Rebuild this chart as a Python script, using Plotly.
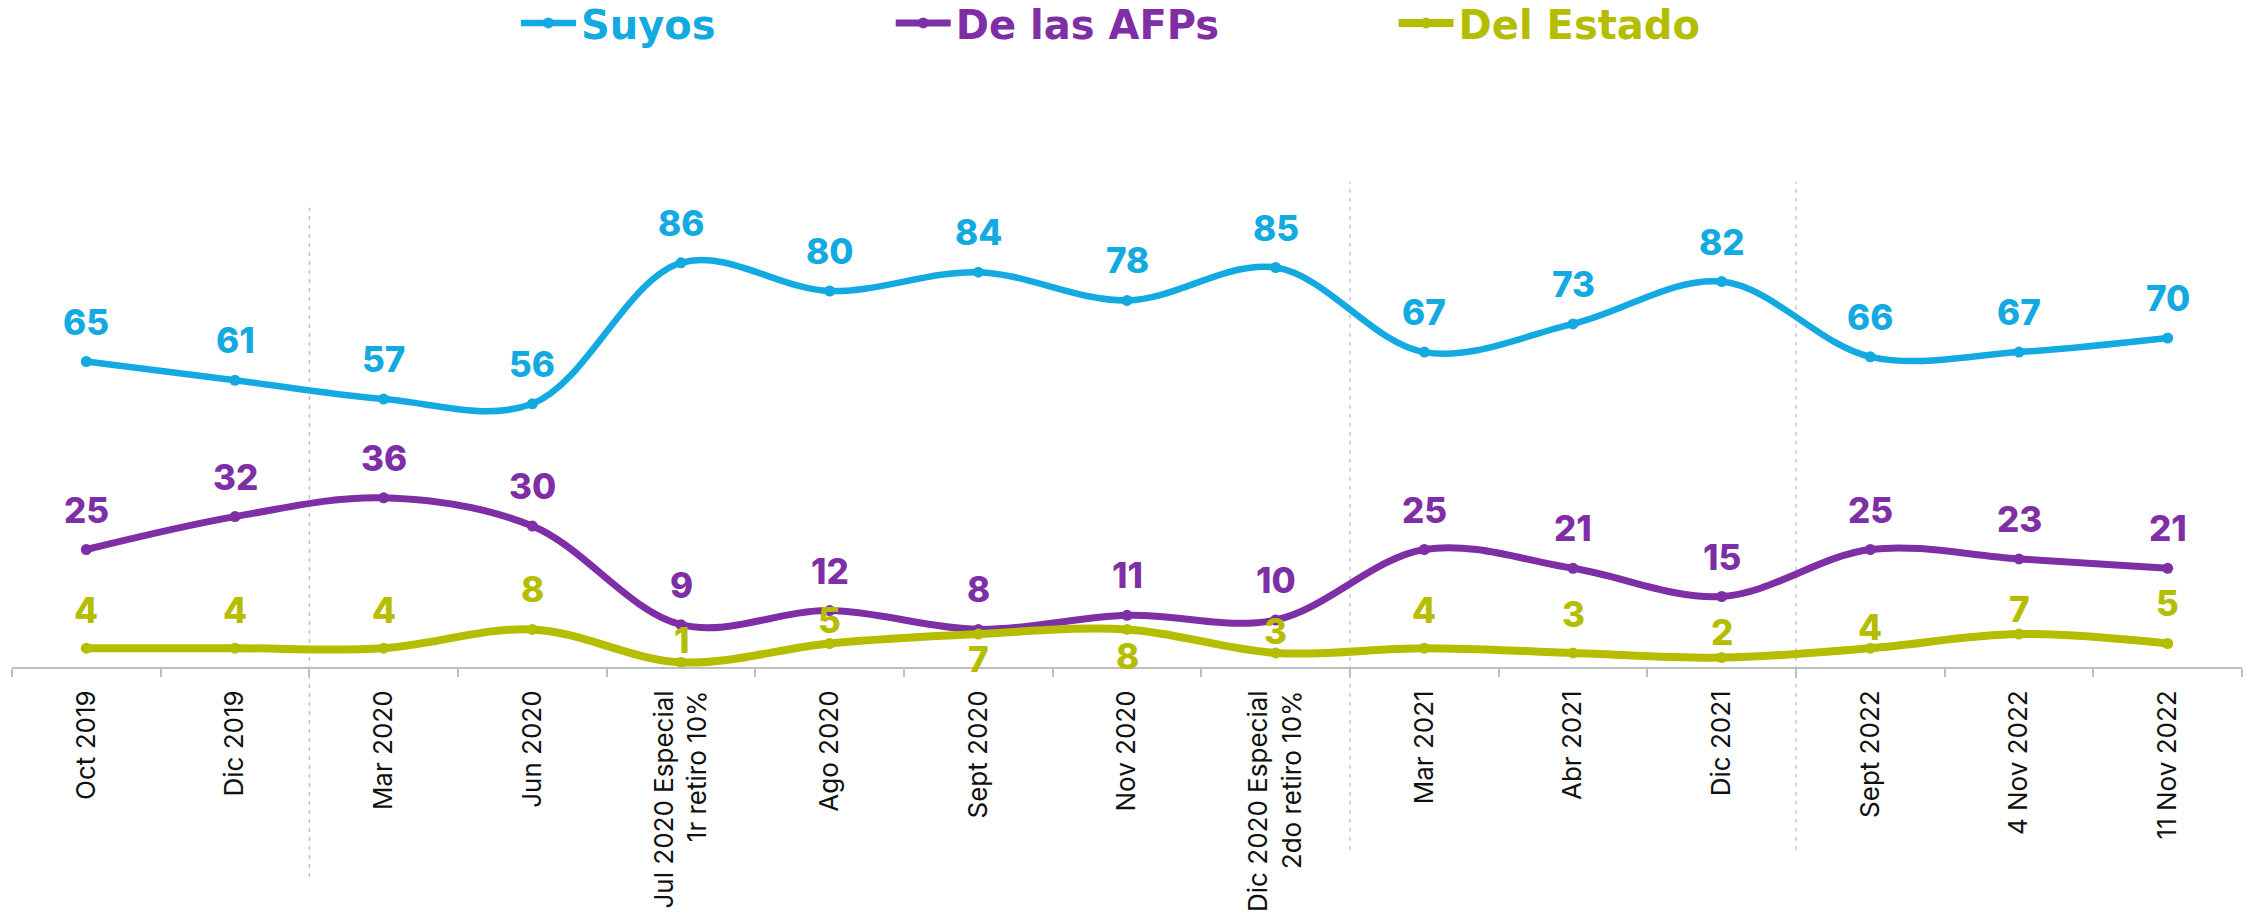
import plotly.graph_objects as go

categories = ["Oct 2019", "Dic 2019", "Mar 2020", "Jun 2020",
              "Jul 2020 Especial<br>1r retiro 10%", "Ago 2020", "Sept 2020", "Nov 2020",
              "Dic 2020 Especial<br>2do retiro 10%", "Mar 2021", "Abr 2021", "Dic 2021",
              "Sept 2022", "4 Nov 2022", "11 Nov 2022"]
suyos = [65, 61, 57, 56, 86, 80, 84, 78, 85, 67, 73, 82, 66, 67, 70]
afps = [25, 32, 36, 30, 9, 12, 8, 11, 10, 25, 21, 15, 25, 23, 21]
estado = [4, 4, 4, 8, 1, 5, 7, 8, 3, 4, 3, 2, 4, 7, 5]

# label vertical shifts (px) for the "Del Estado" series (style, not data)
estado_shift = [38, 38, 38, 40, 22, 24, -25, -27, 22, 38, 39, 26, 21, 25, 41]
separators = [1.5, 8.5, 11.5]

C_SUYOS = "#13A9E1"
C_AFPS = "#7F2FA5"
C_ESTADO = "#B5BD00"

series = [
    ("Suyos", suyos, C_SUYOS, 6.5, "legend"),
    ("De las AFPs", afps, C_AFPS, 7, "legend2"),
    ("Del Estado", estado, C_ESTADO, 8, "legend3"),
]

fig = go.Figure()
for name, vals, col, w, lg in series:
    fig.add_trace(go.Scatter(
        x=categories, y=vals, name=name, mode="lines+markers",
        line=dict(color=col, width=w, shape="spline", smoothing=1.0),
        marker=dict(color=col, size=11),
        legend=lg, cliponaxis=False,
    ))

annotations = []
for name, vals, col, w, lg in series:
    for i, (c, v) in enumerate(zip(categories, vals)):
        shift = estado_shift[i] if name == "Del Estado" else 40
        annotations.append(dict(
            x=c, y=v, xref="x", yref="y", text=str(v), showarrow=False,
            yanchor="middle", yshift=shift,
            font=dict(family="Inter", size=35, color=col, weight=800),
        ))

shapes = []
for k, s in enumerate(separators):
    if k == 0:
        y0, y1 = -0.447, 0.977
    else:
        y0, y1 = -0.389, 1.032
    shapes.append(dict(type="line", xref="x", yref="paper", x0=s, x1=s, y0=y0, y1=y1,
                       line=dict(color="#BFBFBF", width=1.3, dash="4px,5px"), layer="below"))

def leg(x, col):
    return dict(xref="container", yref="container", x=x, y=0.975, xanchor="left",
                yanchor="middle", orientation="h", bgcolor="rgba(0,0,0,0)",
                itemwidth=55,
                font=dict(family="DejaVu Sans", size=40, color=col, weight="bold"))

fig.update_layout(
    width=2255, height=918,
    margin=dict(l=12, r=13, t=197, b=251, autoexpand=False),
    paper_bgcolor="white", plot_bgcolor="white",
    showlegend=True,
    legend=leg(0.2288, C_SUYOS),
    legend2=leg(0.395, C_AFPS),
    legend3=leg(0.618, C_ESTADO),
    annotations=annotations,
    shapes=shapes,
    xaxis=dict(type="category", range=[-0.5, 14.5], tickson="boundaries",
               ticks="outside", ticklen=8, tickcolor="#BFBFBF", tickwidth=1.5,
               showline=True, linecolor="#BFBFBF", linewidth=2, automargin=False,
               tickangle=-90, showgrid=False, ticklabelstandoff=11,
               tickfont=dict(family="Inter", size=26, color="#111111")),
    yaxis=dict(range=[0, 100], visible=False, showgrid=False, automargin=False),
)

fig.write_html("out.html", config={"displayModeBar": False},
               post_script="document.body.style.margin='0';document.body.style.overflow='hidden';")
